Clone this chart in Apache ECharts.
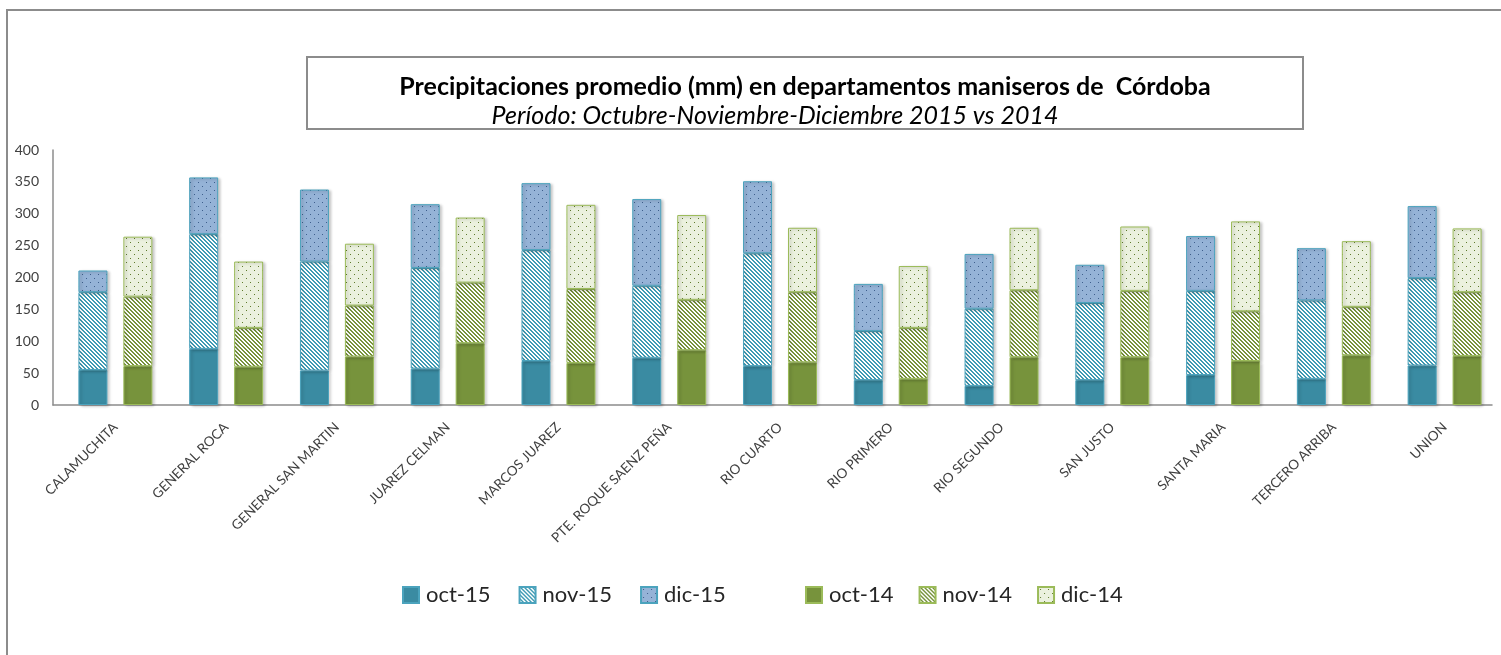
<!DOCTYPE html>
<html>
<head>
<meta charset="utf-8">
<script src="https://cdn.jsdelivr.net/npm/echarts@6/dist/echarts.min.js"></script>
<style>
  html, body { margin: 0; padding: 0; background: #fff; }
  #chart { width: 1501px; height: 655px; }
</style>
</head>
<body>
<div id="chart"></div>
<script>
// departamentos
var categories = ['CALAMUCHITA', 'GENERAL ROCA', 'GENERAL SAN MARTIN', 'JUAREZ CELMAN', 'MARCOS JUAREZ',
    'PTE. ROQUE SAENZ PEÑA', 'RIO CUARTO', 'RIO PRIMERO', 'RIO SEGUNDO', 'SAN JUSTO',
    'SANTA MARIA', 'TERCERO ARRIBA', 'UNION'];

// 2015 (mm)
var oct15 = [55, 88, 54, 57, 69, 74, 61, 39, 30, 39, 47, 41, 62];
var nov15 = [122, 180, 171, 158, 174, 113, 177, 77, 121, 121, 132, 123, 137];
var dic15 = [34, 89, 113, 100, 105, 136, 113, 74, 86, 60, 86, 82, 113];

// 2014 (mm)
var oct14 = [61, 60, 76, 97, 66, 86, 67, 41, 75, 75, 69, 78, 77];
var nov14 = [109, 61, 80, 95, 116, 79, 110, 80, 105, 104, 78, 76, 100];
var dic14 = [94, 104, 97, 102, 132, 133, 101, 97, 98, 101, 141, 103, 100];

var yTicks = [0, 50, 100, 150, 200, 250, 300, 350, 400];

var FONT = 'Lato, "Open Sans", sans-serif';

//rayado diagonal
function stripeTile(fg, bg) {
    var c = document.createElement('canvas');
    c.width = 4; c.height = 4;
    var ctx = c.getContext('2d');
    ctx.fillStyle = bg;
    ctx.fillRect(0, 0, 4, 4);
    ctx.fillStyle = fg;
    for (var y = 0; y < 4; y++) {
        for (var x = 0; x < 4; x++) {
            if ((((x - y) % 4) + 4) % 4 < 2) ctx.fillRect(x, y, 1, 1);
        }
    }
    return c;
}

//punteado
function dotTile(fg, bg) {
    var c = document.createElement('canvas');
    c.width = 8; c.height = 8;
    var ctx = c.getContext('2d');
    ctx.fillStyle = bg;
    ctx.fillRect(0, 0, 8, 8);
    ctx.fillStyle = fg;
    ctx.fillRect(2, 2, 1, 1);
    ctx.fillRect(6, 6, 1, 1);
    return c;
}

var teal = '#3A8BA2', tealLine = '#4BA3BD';
var green = '#77933C', greenLine = '#9BBB59';

var shadow = {shadowColor: 'rgba(0,0,0,0.22)', shadowBlur: 3, shadowOffsetX: 2, shadowOffsetY: 1};

function barSeries(name, stack, data, color, border) {
    return {
        name: name,
        type: 'bar',
        stack: stack,
        data: data,
        barWidth: 29,
        barGap: '55%',
        xAxisIndex: 0,
        yAxisIndex: 0,
        itemStyle: Object.assign({color: color, borderColor: border, borderWidth: 1}, shadow),
        emphasis: {disabled: true}
    };
}

var legendBase = {
    top: 584,
    padding: 0,
    itemWidth: 16,
    itemHeight: 16,
    icon: 'rect',
    textStyle: {fontSize: 22, color: '#262626', fontFamily: FONT, padding: [0, 0, 0, 2]}
};

var myChart = echarts.init(document.getElementById('chart'), null, {renderer: 'canvas'});

myChart.setOption({
    animation: false,
    textStyle: {fontFamily: FONT},
    grid: [
        {left: 60, top: 150, width: 1440, height: 255},   // barras
        {left: 53, top: 150, width: 1439, height: 255}    // ejes visibles
    ],
    xAxis: [{
        type: 'category',
        gridIndex: 0,
        data: categories,
        axisLine: {show: false},
        axisTick: {show: false},
        axisLabel: {
            interval: 0,
            rotate: 45,
            margin: 20,
            fontSize: 13.5,
            color: '#404040',
            fontFamily: FONT
        }
    }, {
        type: 'category',
        gridIndex: 1,
        data: categories,
        axisLine: {show: true, lineStyle: {color: '#8c8c8c', width: 1.5}},
        axisTick: {show: false},
        axisLabel: {show: false}
    }],
    yAxis: [{
        type: 'value',
        gridIndex: 0,
        min: 0,
        max: 400,
        interval: 50,
        show: false
    }, {
        type: 'value',
        gridIndex: 1,
        min: yTicks[0],
        max: yTicks[yTicks.length - 1],
        interval: 50,
        axisLine: {show: true, lineStyle: {color: '#8c8c8c', width: 1.5}},
        axisTick: {show: false},
        splitLine: {show: false},
        axisLabel: {margin: 14, fontSize: 14, color: '#404040', fontFamily: FONT}
    }],
    legend: [
        Object.assign({left: 402, itemGap: 28, data: ['oct-15', 'nov-15', 'dic-15']}, legendBase),
        Object.assign({left: 805, itemGap: 25, data: ['oct-14', 'nov-14', 'dic-14']}, legendBase)
    ],
    series: [
        barSeries('oct-15', 's2015', oct15, teal, tealLine),
        barSeries('nov-15', 's2015', nov15, {image: stripeTile('#3F9BB4', '#ffffff'), repeat: 'repeat'}, tealLine),
        barSeries('dic-15', 's2015', dic15, {image: dotTile('#3E5F8C', '#95B3D7'), repeat: 'repeat'}, tealLine),
        barSeries('oct-14', 's2014', oct14, green, greenLine),
        barSeries('nov-14', 's2014', nov14, {image: stripeTile('#77933C', '#ffffff'), repeat: 'repeat'}, greenLine),
        barSeries('dic-14', 's2014', dic14, {image: dotTile('#5F7A2C', '#EBF1DE'), repeat: 'repeat'}, greenLine)
    ],
    graphic: [
        {
            type: 'polyline',
            shape: {points: [[7, 660], [7, 10], [1510, 10]]},
            style: {stroke: '#8c8c8c', lineWidth: 2, fill: null},
            silent: true
        },
        {
            type: 'rect',
            shape: {x: 307, y: 57, width: 996, height: 72},
            style: {stroke: '#8c8c8c', lineWidth: 2, fill: '#fff'},
            silent: true
        },
        {
            type: 'text',
            x: 805,
            y: 87,
            style: {
                text: 'Precipitaciones promedio (mm) en departamentos maniseros de  Córdoba',
                font: 'bold 25px ' + FONT,
                fill: '#000',
                align: 'center',
                verticalAlign: 'middle'
            },
            silent: true
        },
        {
            type: 'text',
            x: 775,
            y: 116,
            style: {
                text: 'Período: Octubre-Noviembre-Diciembre 2015 vs 2014',
                font: 'italic 25px ' + FONT,
                fill: '#000',
                align: 'center',
                verticalAlign: 'middle'
            },
            silent: true
        }
    ]
});
</script>
</body>
</html>
